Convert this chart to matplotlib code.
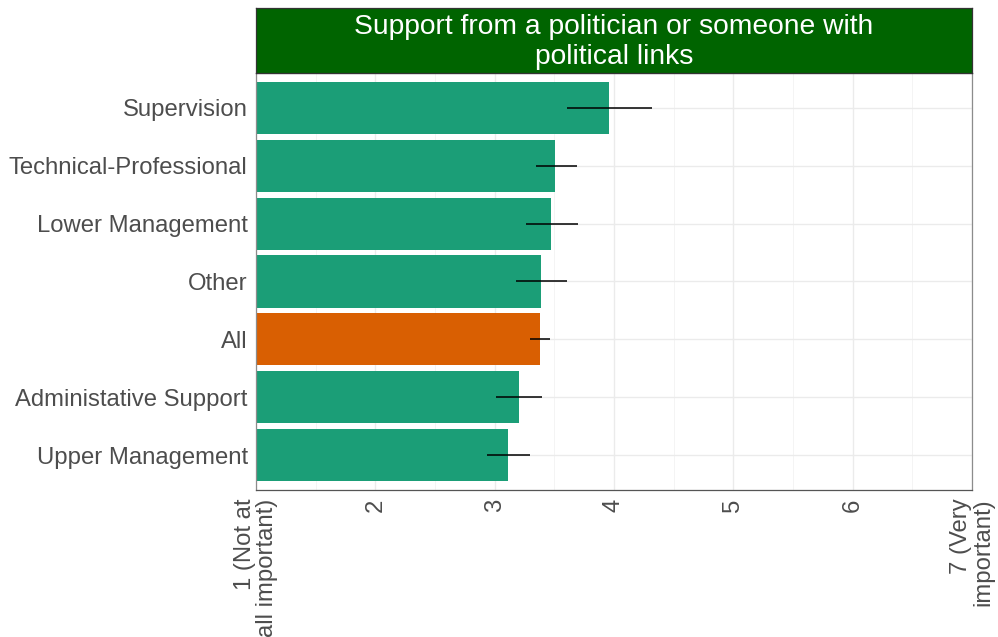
import matplotlib
matplotlib.use("Agg")
import matplotlib.pyplot as plt
import numpy as np

plt.rcParams["font.family"] = ["Liberation Sans", "DejaVu Sans"]

# data, bottom to top as drawn
categories = ["Upper Management", "Administative Support", "All", "Other",
              "Lower Management", "Technical-Professional", "Supervision"]
means = [3.11, 3.20, 3.38, 3.39, 3.47, 3.51, 3.96]
lower = [2.94, 3.01, 3.30, 3.18, 3.26, 3.35, 3.61]
upper = [3.30, 3.40, 3.46, 3.61, 3.70, 3.69, 4.32]
highlight = "All"

x_ticks = [1, 2, 3, 4, 5, 6, 7]
x_labels = ["1 (Not at\nall important)", "2", "3", "4", "5", "6",
            "7 (Very\nimportant)"]
title = "Support from a politician or someone with\npolitical links"

green = "#1B9E77"
orange = "#D95F02"

fig = plt.figure(figsize=(9.98, 6.37), dpi=100)
ax = fig.add_axes([0.2565, 0.2308, 0.7174, 0.6546])

y = np.arange(len(categories))
colors = [orange if c == highlight else green for c in categories]
ax.barh(y, np.array(means) - 1, left=1, height=0.9, color=colors, zorder=2)
ax.hlines(y, lower, upper, color="black", linewidth=1.1, zorder=3)

ax.set_xlim(1, 7)
ax.set_ylim(-0.6, len(categories) - 0.4)
ax.set_yticks(y)
ax.set_yticklabels(categories, fontsize=17.2, color="#4D4D4D")
ax.set_xticks(x_ticks)
ax.set_xticks(np.arange(1.5, 7, 1), minor=True)
ax.set_xticklabels(x_labels, fontsize=17.2, color="#4D4D4D", rotation=90,
                   ha="center", va="top", multialignment="right",
                   linespacing=1.0)

ax.grid(True, which="major", color="#EBEBEB", linewidth=1.0, zorder=0)
ax.grid(True, which="minor", axis="x", color="#F3F3F3", linewidth=0.6, zorder=0)
ax.set_axisbelow(True)
ax.tick_params(axis="both", which="major", length=0, pad=6)
ax.tick_params(axis="both", which="minor", length=0)
for s in ax.spines.values():
    s.set_edgecolor("#8C8C8C")
    s.set_linewidth(0.9)
ax.spines["bottom"].set_edgecolor("#555555")

# facet strip
sax = fig.add_axes([0.2565, 0.8854, 0.7174, 0.102])
sax.set_facecolor("#006400")
sax.set_xticks([])
sax.set_yticks([])
for s in sax.spines.values():
    s.set_edgecolor("#333333")
    s.set_linewidth(0.9)
sax.text(0.5, 0.47, title, color="white", fontsize=20.3, ha="center",
         va="center", linespacing=1.2, transform=sax.transAxes)

fig.savefig("out.png", dpi=100, facecolor="white")
